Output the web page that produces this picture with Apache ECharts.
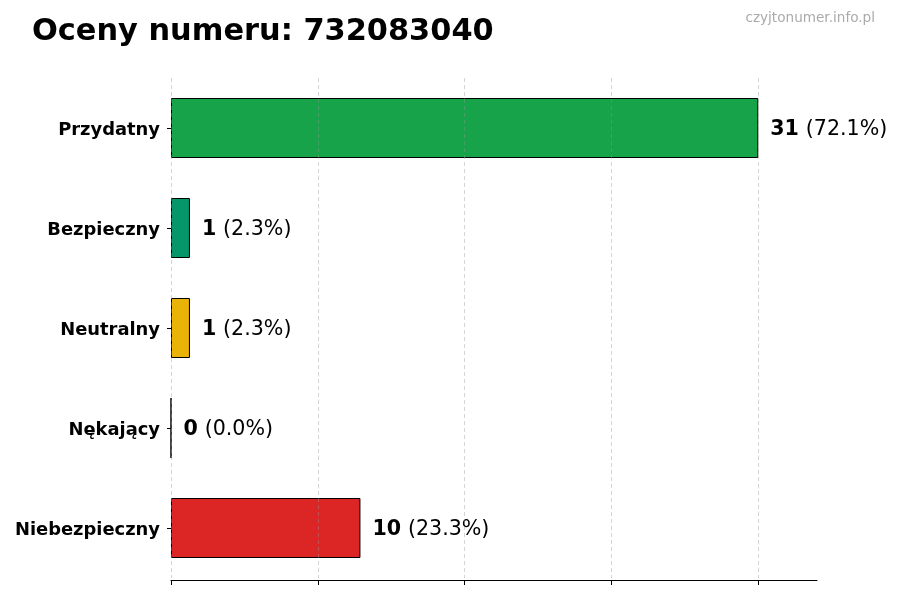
<!DOCTYPE html>
<html><head><meta charset="utf-8">
<script src="https://cdn.jsdelivr.net/npm/echarts@6/dist/echarts.min.js"></script>
<style>html,body{margin:0;padding:0;background:#fff}#c{width:900px;height:600px}</style>
</head><body><div id="c"></div>
<script>
const categories = ['Przydatny', 'Bezpieczny', 'Neutralny', 'Nękający', 'Niebezpieczny'];
const counts = [31, 1, 1, 0, 10];
const percents = ['72.1', '2.3', '2.3', '0.0', '23.3'];
const barColors = ['#16a34a', '#059669', '#eab308', '#f97316', '#dc2626'];
const xTicks = [0, 7.75, 15.5, 23.25, 31];
const xMax = 34.1;

const chart = echarts.init(document.getElementById('c'), null, {renderer: 'canvas'});
const font = 'DejaVu Sans';
chart.setOption({
  animation: false,
  textStyle: {fontFamily: font},
  title: [
    {text: 'Oceny numeru: 732083040', left: 27, top: 12,
     textStyle: {fontFamily: font, fontSize: 30.4, fontWeight: 'bold', color: '#000'}},
    {text: 'czyjtonumer.info.pl', right: 20, top: 6,
     textStyle: {fontFamily: font, fontSize: 13.6, fontWeight: 'normal', color: '#aaaaaa'}}
  ],
  grid: {left: 171, right: 83, top: 78, height: 500, containLabel: false},
  xAxis: {
    type: 'value', min: 0, max: xMax, interval: xTicks[1] - xTicks[0], offset: 2, z: 3,
    axisLine: {show: true, lineStyle: {color: '#000', width: 1}},
    axisTick: {show: true, length: 5, lineStyle: {color: '#000'},
               customValues: xTicks},
    axisLabel: {show: false},
    splitLine: {show: true, lineStyle: {color: 'rgba(150,150,150,0.4)', type: [4, 3], width: 1}}
  },
  yAxis: {
    type: 'category', data: categories, inverse: true,
    axisLine: {show: false},
    axisTick: {show: true, alignWithLabel: true, length: 4, lineStyle: {color: '#000'}},
    axisLabel: {margin: 11, formatter: v => '{a|' + v + '}',
                rich: {a: {fontFamily: font, fontSize: 17.9, fontWeight: 'bold', color: '#000',
                           padding: [4, 0, 0, 0]}}}
  },
  series: [{
    type: 'bar', barWidth: 60,
    data: counts.map((v, i) => ({value: v, itemStyle: {color: barColors[i]}})),
    itemStyle: {borderColor: '#000', borderWidth: 1},
    label: {
      show: true, position: 'right', distance: 12, offset: [0, 2],
      formatter: p => '{b|' + counts[p.dataIndex] + '} {n|(' + percents[p.dataIndex] + '%)}',
      rich: {
        b: {fontFamily: font, fontSize: 20.6, fontWeight: 'bold', color: '#000', padding: [0, 3, 0, 0]},
        n: {fontFamily: font, fontSize: 20.6, color: '#000'}
      }
    }
  }]
});
</script></body></html>
